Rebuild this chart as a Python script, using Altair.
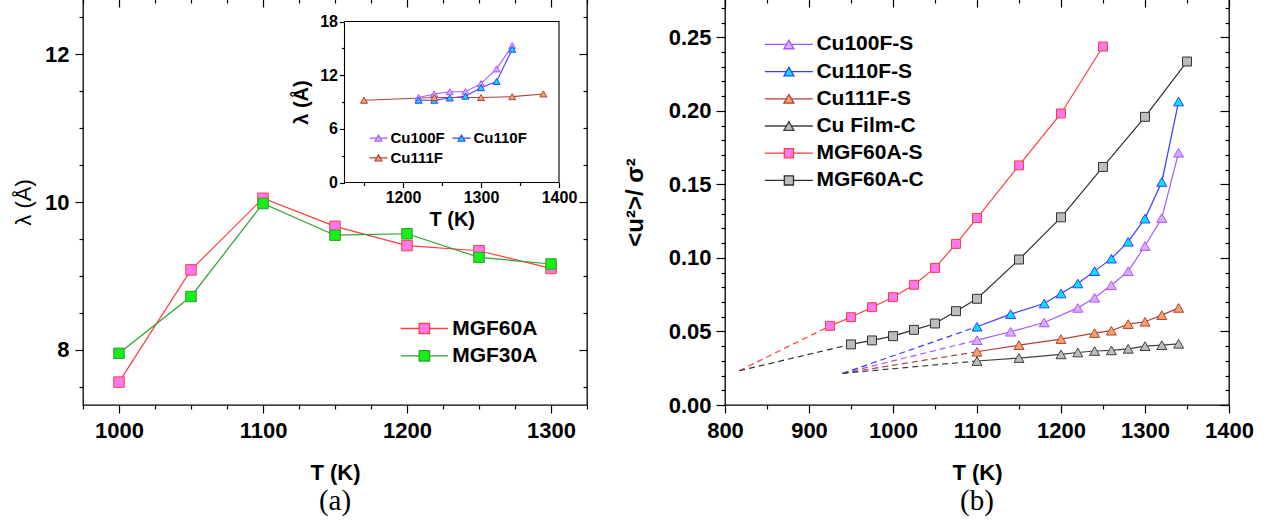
import altair as alt
import pandas as pd

FONT = "Liberation Sans"

# ---------------- panel (a): main plot ----------------
A_T = [1000, 1050, 1100, 1150, 1200, 1250, 1300]
A_MGF60A = [7.56, 9.08, 10.05, 9.67, 9.41, 9.34, 9.10]
A_MGF30A = [7.95, 8.72, 9.98, 9.55, 9.57, 9.25, 9.16]
A_SERIES = ["MGF60A", "MGF30A"]
A_LINE = ["#ff3c3c", "#2e9e2e"]
A_FILL = ["#ff78ee", "#18ee18"]
A_XDOM = [975, 1325]
A_YDOM = [7.25, 12.75]

# ---------------- panel (a): inset ----------------
I_T = [1220, 1240, 1260, 1280, 1300, 1320, 1340]
I_CU100F = [9.5, 9.9, 10.15, 10.15, 11.05, 12.7, 15.3]
I_CU110F = [9.2, 9.2, 9.45, 9.65, 10.6, 11.3, 14.9]
I_T111 = [1150, 1240, 1300, 1340, 1380]
I_CU111F = [9.2, 9.5, 9.5, 9.6, 9.9]
I_SERIES = ["Cu100F", "Cu110F", "Cu111F"]
I_LINE = ["#a557ff", "#3b3bff", "#b0403a"]
I_FILL = ["#dcaaff", "#00e5ff", "#f2a466"]
I_XDOM = [1125, 1400]
I_YDOM = [0, 18]

# ---------------- panel (b) ----------------
B_SERIES = ["Cu100F-S", "Cu110F-S", "Cu111F-S", "Cu Film-C", "MGF60A-S", "MGF60A-C"]
B_LINE = ["#a557ff", "#3b3bff", "#b0403a", "#404040", "#ff3c3c", "#303030"]
B_FILL = ["#dcaaff", "#00e5ff", "#f2a466", "#bdbdbd", "#ff78ee", "#bdbdbd"]
B_MARKER = ["triangle", "triangle", "triangle", "triangle", "square", "square"]

B_CU100F_T = [1100, 1140, 1180, 1220, 1240, 1260, 1280, 1300, 1320, 1340]
B_CU100F = [0.0441, 0.0498, 0.0561, 0.0660, 0.0729, 0.0814, 0.0910, 0.1081, 0.1271, 0.1715]
B_CU110F_T = [1100, 1140, 1180, 1200, 1220, 1240, 1260, 1280, 1300, 1320, 1340]
B_CU110F = [0.0532, 0.0618, 0.0690, 0.0758, 0.0826, 0.0910, 0.0995, 0.1110, 0.1267, 0.1516, 0.2063]
B_CU111F_T = [1100, 1150, 1200, 1240, 1260, 1280, 1300, 1320, 1340]
B_CU111F = [0.0362, 0.0407, 0.0448, 0.0489, 0.0505, 0.0550, 0.0566, 0.0611, 0.0660]
B_CUFILM_T = [1100, 1150, 1200, 1220, 1240, 1260, 1280, 1300, 1320, 1340]
B_CUFILM = [0.0299, 0.0319, 0.0344, 0.0357, 0.0367, 0.0371, 0.0382, 0.0400, 0.0407, 0.0416]
B_MGF60A_S_T = [925, 950, 975, 1000, 1025, 1050, 1075, 1100, 1150, 1200, 1250]
B_MGF60A_S = [0.0538, 0.0597, 0.0665, 0.0733, 0.0817, 0.0932, 0.1095, 0.1271, 0.1629, 0.1982, 0.2437]
B_MGF60A_C_T = [950, 975, 1000, 1025, 1050, 1075, 1100, 1150, 1200, 1250, 1300, 1350]
B_MGF60A_C = [0.0412, 0.0439, 0.0468, 0.0511, 0.0554, 0.0638, 0.0722, 0.0989, 0.1276, 0.1618, 0.1959, 0.2335]
# dashed extrapolation start points (one per series, same order as B_SERIES)
B_DASH_T0 = [940, 940, 940, 940, 817, 817]
B_DASH_V0 = [0.0215, 0.0215, 0.0215, 0.0215, 0.0233, 0.0233]
B_XDOM = [800, 1400]
B_YDOM = [0, 0.276]


def long(name, t, v):
    return pd.DataFrame({"series": name, "T": t, "v": v})


dfA = pd.concat([long("MGF60A", A_T, A_MGF60A), long("MGF30A", A_T, A_MGF30A)])
dfI = pd.concat([long("Cu100F", I_T, I_CU100F), long("Cu110F", I_T, I_CU110F),
                 long("Cu111F", I_T111, I_CU111F)])
b_sets = {
    "Cu100F-S": (B_CU100F_T, B_CU100F),
    "Cu110F-S": (B_CU110F_T, B_CU110F),
    "Cu111F-S": (B_CU111F_T, B_CU111F),
    "Cu Film-C": (B_CUFILM_T, B_CUFILM),
    "MGF60A-S": (B_MGF60A_S_T, B_MGF60A_S),
    "MGF60A-C": (B_MGF60A_C_T, B_MGF60A_C),
}
dfB = pd.concat([long(s, *b_sets[s]) for s in B_SERIES])
dfB["marker"] = dfB["series"].map(dict(zip(B_SERIES, B_MARKER)))
dash_rows = []
for s, t0, v0 in zip(B_SERIES, B_DASH_T0, B_DASH_V0):
    t, v = b_sets[s]
    dash_rows.append({"series": s, "T": t0, "v": v0})
    dash_rows.append({"series": s, "T": t[0], "v": v[0]})
dfD = pd.DataFrame(dash_rows)


# legend symbol: line through a marker (custom path, scaled by sqrt(size)/2)
def legend_path(kind, half_len, m, scale):
    f = lambda q: f"{q / scale:.4f}"
    if kind == "square":
        return (f"M{f(-half_len)},0H{f(-m)}M{f(m)},0H{f(half_len)}"
                f"M{f(-m)},{f(-m)}H{f(m)}V{f(m)}H{f(-m)}Z")
    h = m * 0.866
    return (f"M{f(-half_len)},0H{f(-m / 2)}M{f(m / 2)},0H{f(half_len)}"
            f"M0,{f(-h)}L{f(m)},{f(h)}L{f(-m)},{f(h)}Z")


def mk_axis(values, test, major, minor, text="'' + datum.value", **kw):
    d = dict(values=values,
             tickSize={"condition": {"test": test, "value": major}, "value": minor},
             labelExpr=f"({test}) ? {text} : ''",
             domain=False, grid=False, ticks=True, tickColor="black", tickWidth=1.2,
             labelFont=FONT, labelFontWeight="bold", labelColor="black",
             labelFlush=False, labelOverlap=False,
             titleFont=FONT, titleColor="black", titleFontWeight="bold")
    d.update(kw)
    return alt.Axis(**d)


def mk_legend(x, y, size, sw, fs, loff, rowpad, **kw):
    return alt.Legend(title=None, orient="none", legendX=x, legendY=y, symbolSize=size,
                      symbolStrokeWidth=sw, labelFont=FONT, labelFontSize=fs,
                      labelFontWeight="bold", labelColor="black", labelOffset=loff,
                      rowPadding=rowpad, padding=0, **kw)


INDEP_LEG = dict(fill="independent", stroke="independent", shape="independent")

WA, HA = 504, 406
WB, HB = 504, 406

# ================= panel (a) main =================
xA_vals = list(range(975, 1326, 25))
yA_vals = [7.5 + 0.5 * i for i in range(11)]
xA_test = "datum.value % 100 === 0"
yA_test = "datum.value % 2 === 0"
sxA = alt.Scale(domain=A_XDOM, nice=False, zero=False)
syA = alt.Scale(domain=A_YDOM, nice=False, zero=False)
fillA = alt.Scale(domain=A_SERIES, range=A_FILL)
strokeA = alt.Scale(domain=A_SERIES, range=A_LINE)
shapeA = alt.Scale(domain=A_SERIES, range=[legend_path("square", 23.7, 5.2, 5)] * 2)
legA = mk_legend(330.9, 319, 100, 1.3, 21, 17.3, 5.4)

baseA = alt.Chart(dfA)
linesA = baseA.mark_line(strokeWidth=1.2).encode(
    x=alt.X("T:Q", scale=sxA, axis=mk_axis(xA_vals, xA_test, 8, 4, labelFontSize=22,
                                             labelPadding=7, title="T (K)", titleFontSize=22,
                                             titlePadding=21)),
    y=alt.Y("v:Q", scale=syA, axis=mk_axis(yA_vals, yA_test, 8, 4, labelFontSize=22,
                                             labelPadding=6, title="λ (Å)", titleFontSize=22,
                                             titleFontWeight="normal", titlePadding=9)),
    stroke=alt.Stroke("series:N", scale=strokeA, legend=None),
)
pointsA = baseA.mark_point(filled=True, shape="square", size=110, opacity=1, strokeWidth=1).encode(
    x=alt.X("T:Q", scale=sxA, axis=None),
    y=alt.Y("v:Q", scale=syA, axis=None),
    fill=alt.Fill("series:N", scale=fillA, legend=None),
    stroke=alt.Stroke("series:N", scale=strokeA, legend=None),
)
dummyA = alt.Chart(pd.DataFrame({"series": A_SERIES})).transform_filter("false").mark_point(
    filled=True, opacity=1, size=100).encode(
    fill=alt.Fill("series:N", scale=fillA, legend=legA),
    stroke=alt.Stroke("series:N", scale=strokeA, legend=legA),
    shape=alt.Shape("series:N", scale=shapeA, legend=legA),
)
mirrorA = baseA.mark_point(opacity=0).encode(
    x=alt.X("T:Q", scale=sxA, axis=mk_axis(xA_vals, xA_test, 8, 4, orient="bottom",
                                             offset=-HA, labels=False, title=None)),
    y=alt.Y("v:Q", scale=syA, axis=mk_axis(yA_vals, yA_test, 8, 4, orient="left",
                                             offset=-WA, labels=False, title=None)),
)
mainA = alt.layer(linesA, pointsA, dummyA, mirrorA).resolve_axis(
    x="independent", y="independent").resolve_legend(**INDEP_LEG)

# ================= panel (a) inset =================
I_XR = [261.5, 476]
I_YR = [183.5, 22.5]
sxI = alt.Scale(domain=I_XDOM, range=I_XR, nice=False, zero=False)
syI = alt.Scale(domain=I_YDOM, range=I_YR, nice=False, zero=False)
fillI = alt.Scale(domain=I_SERIES, range=I_FILL)
strokeI = alt.Scale(domain=I_SERIES, range=I_LINE)
shapeI = alt.Scale(domain=I_SERIES, range=[legend_path("triangle", 9, 3.5, 3.5)] * 3)
legI = mk_legend(288, 131.4, 49, 1.1, 15, 4.5, 4, columns=2, columnPadding=5,
                 direction="horizontal")

frameI = alt.Chart(pd.DataFrame({"x0": [I_XDOM[0]], "x1": [I_XDOM[1]],
                                 "y0": [I_YDOM[0]], "y1": [I_YDOM[1]]})).mark_rect(
    fillOpacity=0, stroke="black", strokeWidth=1.1).encode(
    x=alt.X("x0:Q", scale=sxI, axis=None), x2="x1:Q",
    y=alt.Y("y0:Q", scale=syI, axis=None), y2="y1:Q",
)
baseI = alt.Chart(dfI)
linesI = baseI.mark_line(strokeWidth=1.1).encode(
    x=alt.X("T:Q", scale=sxI, axis=mk_axis(list(range(1150, 1401, 50)), "datum.value % 100 === 0",
                                             5, 3, orient="bottom", offset=-(HA - I_YR[0]),
                                             labelFontSize=16, labelPadding=2, title="T (K)",
                                             titleFontSize=20, titlePadding=4, zindex=1)),
    y=alt.Y("v:Q", scale=syI, axis=mk_axis(list(range(0, 19, 3)), "datum.value % 6 === 0",
                                             5, 3, orient="left", offset=-I_XR[0],
                                             labelFontSize=16, labelPadding=2, title="λ (Å)",
                                             titleFontSize=20, titlePadding=8, zindex=1)),
    stroke=alt.Stroke("series:N", scale=strokeI, legend=None),
)
pointsI = baseI.mark_point(filled=True, shape="triangle-up", size=49, opacity=1, strokeWidth=1).encode(
    x=alt.X("T:Q", scale=sxI, axis=None),
    y=alt.Y("v:Q", scale=syI, axis=None),
    fill=alt.Fill("series:N", scale=fillI, legend=None),
    stroke=alt.Stroke("series:N", scale=strokeI, legend=None),
)
dummyI = alt.Chart(pd.DataFrame({"series": I_SERIES})).transform_filter("false").mark_point(
    filled=True, opacity=1, size=49).encode(
    fill=alt.Fill("series:N", scale=fillI, legend=legI),
    stroke=alt.Stroke("series:N", scale=strokeI, legend=legI),
    shape=alt.Shape("series:N", scale=shapeI, legend=legI),
)
insetA = alt.layer(frameI, linesI, pointsI, dummyI).resolve_axis(
    x="independent", y="independent").resolve_legend(**INDEP_LEG)

panelA = alt.layer(mainA, insetA).resolve_scale(
    x="independent", y="independent", fill="independent", stroke="independent", shape="independent"
).properties(width=WA, height=HA,
             title=alt.TitleParams("(a)", orient="bottom", font="Liberation Serif", fontSize=29,
                                   fontWeight="normal", color="black", offset=4, frame="group"))

# ================= panel (b) =================
xB_vals = list(range(800, 1401, 50))
yB_vals = [round(0.01 * i, 2) for i in range(28)]
xB_test = "datum.value % 100 === 0"
yB_test = "round(datum.value * 1000) % 50 === 0"
sxB = alt.Scale(domain=B_XDOM, nice=False, zero=False)
syB = alt.Scale(domain=B_YDOM, nice=False, zero=False)
fillB = alt.Scale(domain=B_SERIES, range=B_FILL)
strokeB = alt.Scale(domain=B_SERIES, range=B_LINE)
shapeB = alt.Scale(domain=B_SERIES,
                   range=[legend_path(m, 24, 5 if m == "triangle" else 4.6, 5) for m in B_MARKER])
legB = mk_legend(53.4, 34.9, 100, 1.3, 21, 17, 5.2)

dashB = alt.Chart(dfD).mark_line(strokeWidth=1.2, strokeDash=[6, 4]).encode(
    x=alt.X("T:Q", scale=sxB, axis=None),
    y=alt.Y("v:Q", scale=syB, axis=None),
    stroke=alt.Stroke("series:N", scale=strokeB, legend=None),
)
baseB = alt.Chart(dfB)
linesB = baseB.mark_line(strokeWidth=1.2).encode(
    x=alt.X("T:Q", scale=sxB, axis=mk_axis(xB_vals, xB_test, 8, 4, labelFontSize=22,
                                             labelPadding=7, title="T (K)", titleFontSize=22,
                                             titlePadding=21)),
    y=alt.Y("v:Q", scale=syB, axis=mk_axis(yB_vals, yB_test, 9, 4,
                                             text="format(datum.value, '.2f')",
                                             labelFontSize=22, labelPadding=5,
                                             title="<u²>/ σ²", titleFontSize=24,
                                             titlePadding=21)),
    stroke=alt.Stroke("series:N", scale=strokeB, legend=None),
)
squaresB = baseB.transform_filter("datum.marker === 'square'").mark_point(
    filled=True, shape="square", size=80, opacity=1, strokeWidth=1).encode(
    x=alt.X("T:Q", scale=sxB, axis=None),
    y=alt.Y("v:Q", scale=syB, axis=None),
    fill=alt.Fill("series:N", scale=fillB, legend=None),
    stroke=alt.Stroke("series:N", scale=strokeB, legend=None),
)
trianglesB = baseB.transform_filter("datum.marker === 'triangle'").mark_point(
    filled=True, shape="triangle-up", size=100, opacity=1, strokeWidth=1).encode(
    x=alt.X("T:Q", scale=sxB, axis=None),
    y=alt.Y("v:Q", scale=syB, axis=None),
    fill=alt.Fill("series:N", scale=fillB, legend=None),
    stroke=alt.Stroke("series:N", scale=strokeB, legend=None),
)
dummyB = alt.Chart(pd.DataFrame({"series": B_SERIES})).transform_filter("false").mark_point(
    filled=True, opacity=1, size=100).encode(
    fill=alt.Fill("series:N", scale=fillB, legend=legB),
    stroke=alt.Stroke("series:N", scale=strokeB, legend=legB),
    shape=alt.Shape("series:N", scale=shapeB, legend=legB),
)
mirrorB = baseB.mark_point(opacity=0).encode(
    x=alt.X("T:Q", scale=sxB, axis=mk_axis(xB_vals, xB_test, 8, 4, orient="bottom",
                                             offset=-HB, labels=False, title=None)),
    y=alt.Y("v:Q", scale=syB, axis=mk_axis(yB_vals, yB_test, 9, 4, orient="left",
                                             offset=-WB, labels=False, title=None)),
)
panelB = alt.layer(dashB, linesB, squaresB, trianglesB, dummyB, mirrorB).resolve_axis(
    x="independent", y="independent"
).resolve_legend(**INDEP_LEG).properties(
    width=WB, height=HB,
    title=alt.TitleParams("(b)", orient="bottom", font="Liberation Serif", fontSize=29,
                          fontWeight="normal", color="black", offset=4, frame="group"))

chart = alt.hconcat(panelA, panelB, spacing=33).properties(
    padding={"left": 11, "top": -4, "right": 5, "bottom": 2},
    background="white",
).configure_view(stroke="black", strokeWidth=1.3)

chart.save("out.html", embed_options={"renderer": "svg", "actions": False})
